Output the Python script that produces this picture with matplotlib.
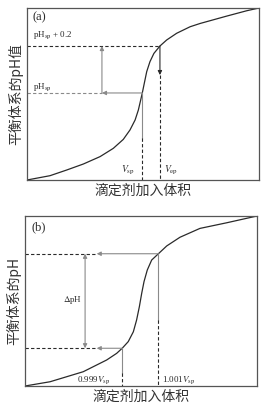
import matplotlib.pyplot as plt

plt.rcParams['font.family'] = ['Liberation Serif', 'DejaVu Serif']
plt.rcParams['mathtext.fontset'] = 'stix'

# panel (a): titration curve (x: volume %, y: pH %)
vol_a = [0, 9.9, 17.1, 24.3, 31.5, 37.2, 41.5, 44.4, 46.6, 48.0, 49.0, 49.7, 50.4, 51.6,
         53.0, 54.7, 57.3, 60.2, 64.5, 70.3, 74.6, 86.1, 94.7, 100]
ph_a = [0, 2.5, 5.8, 9.3, 13.6, 18.4, 23.6, 29.1, 34.9, 40.7, 46.5, 50.6, 55.2, 63.0,
        68.8, 73.6, 77.9, 81.4, 85.3, 89.1, 91.0, 95.3, 98.4, 100]
v_sp, v_ep = 49.7, 57.3
ph_sp, ph_sp2 = 50.6, 77.9

# panel (b)
vol_b = [0, 10.8, 25.1, 35.2, 39.5, 41.9, 44.5, 46.7, 48.1, 49.3, 50.3, 51.3, 52.7,
         54.6, 57.5, 61.1, 66.8, 75.4, 86.9, 100]
ph_b = [0, 2.5, 8.4, 15.3, 19.2, 22.2, 26.1, 31.9, 38.8, 46.7, 54.5, 61.4, 68.2,
        74.1, 77.8, 82.4, 87.5, 92.7, 96.0, 100]
v_lo, v_hi = 41.9, 57.5
ph_lo, ph_hi = 22.2, 77.8

ink = '#2a2a2a'
grey = '#8a8a8a'
cjk = ['Noto Sans CJK SC', 'DejaVu Sans']

fig = plt.figure(figsize=(2.68, 4.13), dpi=100)
ax1 = fig.add_axes([27 / 268, 1 - 180 / 413, 232 / 268, 172 / 413])
ax2 = fig.add_axes([25 / 268, 1 - 386 / 413, 232 / 268, 170 / 413])

for ax in (ax1, ax2):
    ax.set_xlim(0, 100)
    ax.set_ylim(0, 100)
    ax.set_xticks([])
    ax.set_yticks([])
    for s in ax.spines.values():
        s.set_color('#555555')
        s.set_linewidth(0.9)
    ax.set_xlabel('滴定剂加入体积', family=cjk, fontsize=10, color='#333333', labelpad=3)

ax1.set_ylabel('平衡体系的pH值', family=cjk, fontsize=10, color='#333333', labelpad=3)
ax2.set_ylabel('平衡体系的pH', family=cjk, fontsize=10, color='#333333', labelpad=3)


def arrow(ax, start, end, color, both=False):
    style = '<|-|>' if both else '-|>'
    ax.annotate('', xy=end, xytext=start,
                arrowprops=dict(arrowstyle=style, color=color, lw=0.8,
                                mutation_scale=6, shrinkA=0, shrinkB=0))


# ---- (a)
ax1.plot(vol_a, ph_a, color=ink, lw=0.9, solid_joinstyle='round')
x_arr = 32.3
ax1.plot([0, v_ep], [ph_sp2, ph_sp2], color=ink, lw=0.8, ls=(0, (3, 2)))
ax1.plot([0, x_arr], [ph_sp, ph_sp], color=grey, lw=0.8, ls=(0, (3, 2)))
arrow(ax1, (v_sp, ph_sp), (x_arr, ph_sp), grey)
arrow(ax1, (x_arr, ph_sp), (x_arr, ph_sp2), grey)
arrow(ax1, (v_ep, ph_sp2), (v_ep, 61.0), ink)
ax1.plot([v_ep, v_ep], [61.0, 0], color=ink, lw=0.8, ls=(0, (3, 2)))
ax1.plot([v_sp, v_sp], [ph_sp, 24.4], color=grey, lw=0.8)
ax1.plot([v_sp, v_sp], [24.4, 0], color=ink, lw=0.8, ls=(0, (3, 2)))

ax1.text(2.3, 94.8, '(a)', fontsize=9, color=ink, va='center')
ax1.text(2.6, 84.3, r'pH$_{\rm sp}$ + 0.2', fontsize=6.5, color=ink, va='center')
ax1.text(2.6, 54.0, r'pH$_{\rm sp}$', fontsize=6.5, color=ink, va='center')
ax1.text(43.5, 5.8, r'$V_{\rm sp}$', fontsize=7, color=ink, ha='center', va='center')
ax1.text(62.0, 5.8, r'$V_{\rm ep}$', fontsize=7, color=ink, ha='center', va='center')

# ---- (b)
ax2.plot(vol_b, ph_b, color=ink, lw=0.9, solid_joinstyle='round')
x_end = 30.9
x_dp = 25.9
for v, p in ((v_lo, ph_lo), (v_hi, ph_hi)):
    ax2.plot([0, x_end], [p, p], color=ink, lw=0.8, ls=(0, (3, 2)))
    arrow(ax2, (v, p), (x_end, p), grey)
arrow(ax2, (x_dp, ph_lo), (x_dp, ph_hi), grey, both=True)
ax2.plot([v_lo, v_lo], [ph_lo, 7.6], color=grey, lw=0.8)
ax2.plot([v_lo, v_lo], [7.6, 0], color=ink, lw=0.8, ls=(0, (3, 2)))
ax2.plot([v_hi, v_hi], [ph_hi, 38.8], color=grey, lw=0.8)
ax2.plot([v_hi, v_hi], [38.8, 0], color=ink, lw=0.8, ls=(0, (3, 2)))

ax2.text(2.8, 93.5, '(b)', fontsize=9, color=ink, va='center')
ax2.text(20.3, 50.6, r'$\Delta$pH', fontsize=6.5, color=ink, ha='center', va='center')
ax2.text(29.7, 3.5, r'0.999$V_{\rm sp}$', fontsize=6.5, color=ink, ha='center', va='center')
ax2.text(66.2, 3.5, r'1.001$V_{\rm sp}$', fontsize=6.5, color=ink, ha='center', va='center')

fig.savefig('out.png', dpi=100)
